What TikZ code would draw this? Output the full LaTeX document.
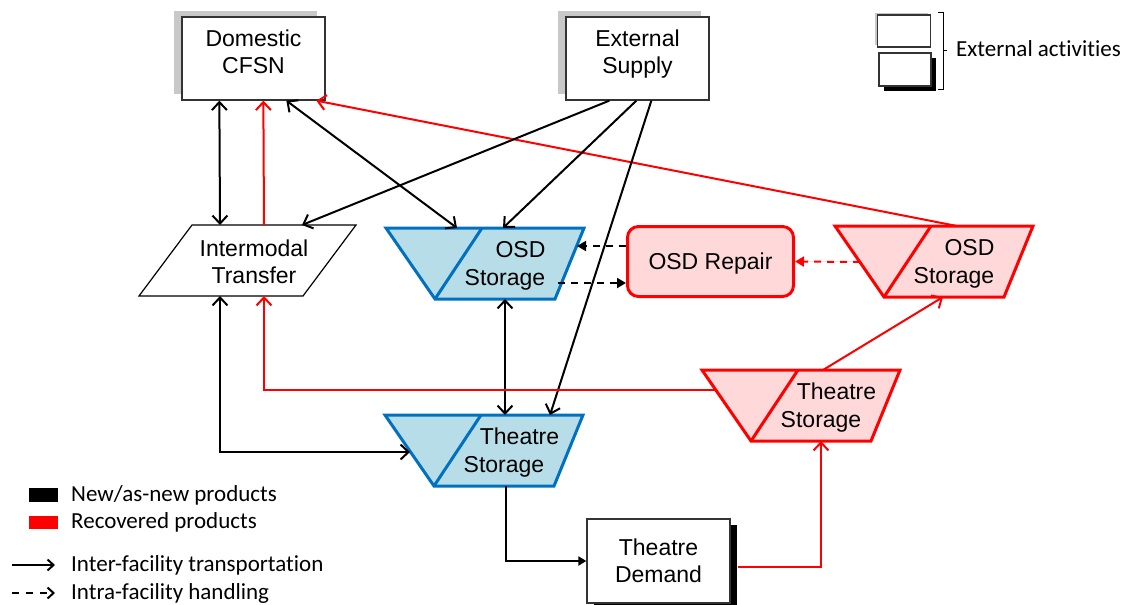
\documentclass[tikz,border=0pt]{standalone}
\usepackage{fontspec}
\setmainfont{Liberation Sans}
\newfontfamily\legendfont[Ligatures={NoCommon}]{Carlito}
\usetikzlibrary{arrows.meta,calc,shadows}
\definecolor{bluefill}{HTML}{B7DEE8}
\definecolor{blueline}{HTML}{0070C0}
\definecolor{redfill}{HTML}{FFD9D9}
\definecolor{redline}{HTML}{FF0000}
\definecolor{shadowgray}{HTML}{C8C8C8}
\newcommand{\lowstrut}{\rule[-14pt]{0pt}{0pt}}
\tikzset{
  mainfont/.style={font=\fontsize{23}{27}\selectfont},
  legfont/.style={font=\legendfont\fontsize{23}{27}\selectfont},
  extbox/.style={draw=black!80, line width=1.3pt, fill=white, minimum width=143pt,
    minimum height=83pt, align=center, inner sep=0pt, mainfont},
  grayshadow/.style={drop shadow={shadow xshift=-8pt, shadow yshift=6pt, fill=shadowgray, opacity=1}},
  blackshadow/.style={drop shadow={shadow xshift=7pt, shadow yshift=-6pt, fill=black, opacity=1}},
  bluestore/.style={draw=blueline, fill=bluefill, line width=3pt, line join=miter},
  redstore/.style={draw=redline, fill=redfill, line width=3pt, line join=miter},
  bbox/.style={inner sep=0pt, outer sep=0pt, minimum width=198pt, minimum height=71pt},
  storetext/.style={inner sep=0pt, anchor=base, mainfont},
  repairbox/.style={draw=redline, fill=redfill, line width=3pt, rounded corners=11pt,
    minimum width=166pt, minimum height=70pt, mainfont, text height=16.5pt, text depth=0pt},
  imtshape/.style={draw=black, line width=1.2pt, fill=white},
  barb/.tip={Straight Barb[length=8pt,width=15pt]},
  conn/.style={line width=2pt, -barb},
  biconn/.style={line width=2pt, barb-barb},
  redconn/.style={line width=2pt, draw=redline, -barb},
  smallconn/.style={line width=2pt, -{Triangle[length=8pt,width=9pt]}},
  dconn/.style={line width=2pt, dash pattern=on 7pt off 6pt, -{Triangle[length=9pt,width=10pt]}},
  rdconn/.style={dconn, draw=redline, fill=redline},
  legconn/.style={line width=2pt, -{Straight Barb[length=6pt,width=11pt]}},
  legdconn/.style={legconn, dash pattern=on 7pt off 7pt},
  legtext/.style={legfont, anchor=base west, inner sep=0pt},
  legbox/.style={draw=black!80, line width=1.3pt, fill=white, minimum width=53pt, minimum height=32pt},
}
\newcommand{\storagebox}[6]{%
  \begin{scope}[shift={(#3,#4)}]
    \draw[#2] (0,0) -- (198,0) -- (169,71) -- (49,71) -- cycle;
    \draw[#2, fill=none] (96,0) -- (49,71);
    \node[bbox] (#1) at (99,35.5) {};
    \node[storetext] (#1-a) at (134.5,29) {#5};
    \node[storetext] (#1-b) at (119,57) {#6};
  \end{scope}}
\begin{document}
\begin{tikzpicture}[x=1pt,y=-1pt]
\useasboundingbox (0,0) rectangle (1128,605);

% external activity boxes
\node[extbox, grayshadow] (dom) at (253.5,58.5) {Domestic\\CFSN\lowstrut};
\node[extbox, grayshadow] (ext) at (637.5,58.5) {External\\Supply\lowstrut};
\node[extbox, blackshadow, minimum height=84pt] (dem) at (658.5,561) {Theatre\\Demand};

% intermodal transfer
\draw[imtshape] (192,225) -- (356,225) -- (303,296) -- (139,296) -- cycle;
\node[inner sep=0pt, outer sep=0pt, minimum width=217pt, minimum height=71pt] (imt) at (247.5,260.5) {};
\node[mainfont, align=center, inner sep=0pt] (imt-t) at (254,262) {Intermodal\\Transfer};

% storages
\storagebox{osd}{bluestore}{386}{228}{OSD}{Storage}
\storagebox{thb}{bluestore}{385}{415}{Theatre}{Storage}
\storagebox{ros}{redstore}{835}{226}{OSD}{Storage}
\storagebox{rth}{redstore}{702}{370}{Theatre}{Storage}

% repair
\node[repairbox] (rep) at (710.5,261.5) {OSD Repair};

% connectors
\draw[biconn] ($(dom.south west)+(38,0)$) -- ($(imt.north west)+(81,0)$);
\draw[redconn] ($(imt.north west)+(125,0)$) -- ($(dom.south west)+(82,0)$);
\draw[biconn] ($(dom.south west)+(105,0)$) -- ($(osd.north west)+(71,0)$);
\draw[redconn] ($(ros.north west)+(122,0)$) -- ($(dom.south west)+(135,0)$);
\draw[conn] ($(ext.south west)+(44,0)$) -- ($(imt.north west)+(163,0)$);
\draw[conn] ($(ext.south west)+(71,0)$) -- ($(osd.north west)+(117,0)$);
\draw[conn] ($(ext.south west)+(86,0)$) -- ($(thb.north west)+(165,0)$);
\draw[biconn] ($(osd.south west)+(119,0)$) -- ($(thb.north west)+(120,0)$);
\draw[biconn] ($(imt.south west)+(81,0)$) |- ($(thb.north west)+(25,37)$);
\draw[redconn] ($(rth.north west)+(14,20)$) -| ($(imt.south west)+(125,0)$);
\draw[redconn] ($(rth.north west)+(121,0)$) -- ($(ros.south west)+(108,0)$);
\draw[smallconn] ($(thb.south west)+(121,0)$) |- (dem.west);
\draw[redconn] ($(dem.east)+(7,6)$) -| ($(rth.south west)+(119,0)$);
\draw[dconn] ($(rep.west)+(0,-15.5)$) -- ($(osd.north west)+(191,18)$);
\draw[dconn] ($(osd.north west)+(172,55)$) -- ($(rep.west)+(0,21.5)$);
\draw[rdconn] ($(ros.north west)+(25,36)$) -- (rep.east);

% legend top right
\node[legbox, drop shadow={shadow xshift=-2.5pt, shadow yshift=2.5pt, fill=shadowgray, opacity=1}] (lgext1) at (904,31) {};
\node[legbox, minimum width=52pt, minimum height=33pt,
  drop shadow={shadow xshift=5pt, shadow yshift=-5pt, fill=black, opacity=1}] (lgext2) at (905,69.5) {};
\draw[line width=1pt] (938,12) -- (943,12) -- (943,89) -- (938,89);
\draw[line width=1pt] (943,50.5) -- (947,50.5);
\node[legtext] (lgexttxt) at (956,56) {External activities};

% legend bottom left
\node[fill=black, minimum width=29pt, minimum height=14pt, inner sep=0pt] (lgnew) at (43.5,495) {};
\node[fill=redline, minimum width=29pt, minimum height=13pt, inner sep=0pt] (lgrec) at (43.5,522.5) {};
\node[legtext] (lgnewtxt) at (71,501) {New/as-new products};
\node[legtext] (lgrectxt) at (71,528) {Recovered products};
\coordinate (la1) at (12,565);
\coordinate (lb1) at (55,565);
\coordinate (la2) at (12,593);
\coordinate (lb2) at (55,593);
\draw[legconn] (la1) -- (lb1);
\draw[legdconn] (la2) -- (lb2);
\node[legtext] (lginter) at (71,571.5) {Inter-facility transportation};
\node[legtext] (lgintra) at (71,599) {Intra-facility handling};
\end{tikzpicture}
\end{document}
